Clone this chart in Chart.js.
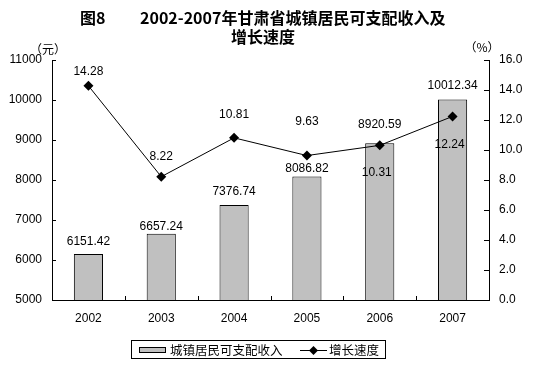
<!DOCTYPE html>
<html>
<head>
<meta charset="utf-8">
<script src="https://cdn.jsdelivr.net/npm/chart.js@4"></script>
<style>
  html, body { margin: 0; padding: 0; background: #fff; }
  canvas { display: block; }
</style>
</head>
<body>
<canvas id="chart8" width="534" height="365"></canvas>
<script>
const years = ['2002', '2003', '2004', '2005', '2006', '2007'];
const income = [6151.42, 6657.24, 7376.74, 8086.82, 8920.59, 10012.34];
const growth = [14.28, 8.22, 10.81, 9.63, 10.31, 12.24];
const incomeLabels = ['6151.42', '6657.24', '7376.74', '8086.82', '8920.59', '10012.34'];
const growthLabels = ['14.28', '8.22', '10.81', '9.63', '10.31', '12.24'];

// label placement (pixels from the mark), as in the original layout
const incomeLabelGap = [12, 7, 13, 8, 18, 14];
const growthLabelShift = [-14, -20, -23, -34, 27, 28];

const LATIN = "'Liberation Sans', Arial, sans-serif";
const CJK = "'Noto Sans CJK SC', 'Liberation Sans', sans-serif";

const decorations = {
    id: 'decorations',
    afterDraw(chart) {
        const ctx = chart.ctx;
        const x = chart.scales.x, yL = chart.scales.y, yR = chart.scales.y1;
        ctx.save();
        ctx.strokeStyle = '#000';
        ctx.lineWidth = 1;

        // inside tick marks
        ctx.beginPath();
        yL.ticks.forEach(t => {
            const py = Math.round(yL.getPixelForValue(t.value)) + 0.5;
            ctx.moveTo(yL.right, py); ctx.lineTo(yL.right + 4, py);
        });
        yR.ticks.forEach(t => {
            const py = Math.round(yR.getPixelForValue(t.value)) + 0.5;
            ctx.moveTo(yR.left - 5, py); ctx.lineTo(yR.left, py);
        });
        for (let i = 1; i < years.length; i++) {
            const px = Math.round((x.getPixelForValue(i - 1) + x.getPixelForValue(i)) / 2) + 0.5;
            ctx.moveTo(px, x.top); ctx.lineTo(px, x.top - 4);
        }
        ctx.stroke();

        // value labels
        ctx.fillStyle = '#000';
        ctx.font = '12px ' + LATIN;
        ctx.textAlign = 'center';
        ctx.textBaseline = 'bottom';
        const barMeta = chart.getDatasetMeta(0);
        barMeta.data.forEach((bar, i) => {
            ctx.fillText(incomeLabels[i], bar.x, bar.y - incomeLabelGap[i] + 6);
        });
        ctx.textBaseline = 'middle';
        const lineMeta = chart.getDatasetMeta(1);
        lineMeta.data.forEach((pt, i) => {
            ctx.fillText(growthLabels[i], pt.x - (i >= 4 ? 3 : 0), pt.y + growthLabelShift[i]);
        });

        // units
        ctx.font = '12px ' + CJK;
        ctx.fillText('（元）', 48, 49);
        ctx.fillText('（%）', 482, 47);

        // title
        ctx.font = 'bold 16px ' + CJK;
        ctx.textAlign = 'left';
        ctx.fillText('图8', 80, 18);
        ctx.fillText('2002-2007年甘肃省城镇居民可支配收入及', 140, 18);
        ctx.textAlign = 'center';
        ctx.fillText('增长速度', 263, 37);

        // legend
        ctx.strokeRect(131.5, 340.5, 254, 18);
        ctx.fillStyle = '#c0c0c0';
        ctx.fillRect(139, 347, 26, 5);
        ctx.strokeRect(139.5, 347.5, 26, 5);
        ctx.beginPath();
        ctx.moveTo(300, 350.5); ctx.lineTo(327, 350.5);
        ctx.stroke();
        ctx.fillStyle = '#000';
        ctx.beginPath();
        ctx.moveTo(313.5, 346); ctx.lineTo(318, 350.5); ctx.lineTo(313.5, 355); ctx.lineTo(309, 350.5);
        ctx.closePath(); ctx.fill();
        ctx.font = '12.5px ' + CJK;
        ctx.textAlign = 'left';
        ctx.fillText('城镇居民可支配收入', 170, 350);
        ctx.fillText('增长速度', 329, 350);
        ctx.restore();
    }
};

new Chart(document.getElementById('chart8'), {
    type: 'bar',
    data: {
        labels: years,
        datasets: [
            {
                type: 'bar',
                label: '城镇居民可支配收入',
                data: income,
                yAxisID: 'y',
                backgroundColor: '#c0c0c0',
                borderColor: '#000',
                borderWidth: 1,
                barPercentage: 0.4,
                categoryPercentage: 1,
                order: 2
            },
            {
                type: 'line',
                label: '增长速度',
                data: growth,
                yAxisID: 'y1',
                borderColor: '#000',
                borderWidth: 1,
                backgroundColor: '#000',
                pointStyle: 'rectRot',
                pointRadius: 5,
                pointBorderWidth: 0,
                tension: 0,
                order: 1
            }
        ]
    },
    options: {
        responsive: false,
        animation: false,
        devicePixelRatio: 1,
        layout: { padding: { top: 60, left: 0, right: 0, bottom: 0 } },
        plugins: {
            legend: { display: false },
            title: { display: false },
            tooltip: { enabled: false }
        },
        scales: {
            x: {
                offset: true,
                grid: { display: false, drawTicks: false },
                border: { display: true, color: '#000', width: 1 },
                ticks: { color: '#000', font: { family: LATIN, size: 12 }, padding: 11, maxRotation: 0 },
                afterFit(scale) { scale.height = 65; }
            },
            y: {
                position: 'left',
                min: 5000,
                max: 11000,
                grid: { display: false, drawTicks: false },
                border: { display: true, color: '#000', width: 1 },
                ticks: {
                    stepSize: 1000, color: '#000', font: { family: LATIN, size: 12 }, padding: 10,
                    callback: v => String(v)
                },
                afterFit(scale) { scale.width = 52; }
            },
            y1: {
                position: 'right',
                min: 0,
                max: 16,
                grid: { display: false, drawTicks: false },
                border: { display: true, color: '#000', width: 1 },
                ticks: {
                    stepSize: 2, color: '#000', font: { family: LATIN, size: 12 }, padding: 10,
                    callback: v => Number(v).toFixed(1)
                },
                afterFit(scale) { scale.width = 45; }
            }
        }
    },
    plugins: [decorations]
});
</script>
</body>
</html>
